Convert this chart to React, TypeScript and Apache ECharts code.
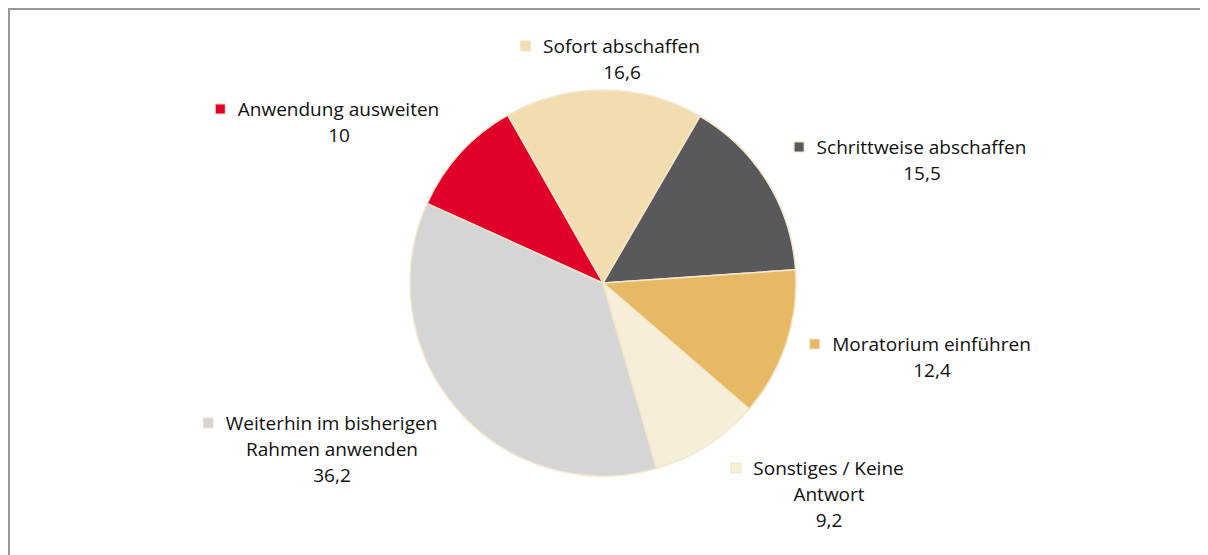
import React, { useEffect, useRef } from "react";
import * as echarts from "echarts";

// ---- data ----
const categories = [
  "Sofort abschaffen",
  "Schrittweise abschaffen",
  "Moratorium einführen",
  "Sonstiges / Keine Antwort",
  "Weiterhin im bisherigen Rahmen anwenden",
  "Anwendung ausweiten",
];
const labelLines = [
  ["Sofort abschaffen"],
  ["Schrittweise abschaffen"],
  ["Moratorium einführen"],
  ["Sonstiges / Keine", "Antwort"],
  ["Weiterhin im bisherigen", "Rahmen anwenden"],
  ["Anwendung ausweiten"],
];
const values = [16.6, 15.5, 12.4, 9.2, 36.2, 10];

// ---- styles ----
const colors = ["#f2ddb0", "#59595b", "#e8b965", "#f6eed8", "#d5d5d5", "#e1002a"];
// label anchor (center x, top y) in chart pixels
const labelPos: [number, number][] = [
  [612, 23],
  [912, 124],
  [922, 321],
  [819, 445],
  [322, 400],
  [329, 86],
];
const FONT = "Open Sans";
const FS = 19;
const LH = 26;

function fmt(v: number) {
  return String(v).replace(".", ",");
}

export default function App() {
  const ref = useRef<HTMLDivElement>(null);
  useEffect(() => {
    if (!ref.current) return;
    const chart = echarts.init(ref.current, undefined, { renderer: "svg" });
    const rich: any = {
      g: { width: 13, height: LH, align: "center" },
      pad: { width: 23, height: LH, align: "center" },
      t: { fontFamily: FONT, fontSize: FS, color: "#111", lineHeight: LH, align: "center" },
    };
    colors.forEach((c, i) => {
      rich["sq" + i] = {
        width: 9,
        height: 9,
        backgroundColor: c,
        borderColor: "#f3e4c2",
        borderWidth: 1,
        align: "center",
      };
    });
    chart.setOption({
      animation: false,
      series: [
        {
          type: "pie",
          center: [593, 273],
          radius: 193,
          startAngle: 119.6,
          clockwise: true,
          avoidLabelOverlap: false,
          itemStyle: { borderColor: "#f4e8cc", borderWidth: 1.5 },
          labelLine: { show: false },
          label: {
            show: true,
            position: "outside",
            align: "center",
            formatter: (p: any) => {
              const lines = labelLines[p.dataIndex];
              const first = `{sq${p.dataIndex}|}{g|}{t|${lines[0]}}{pad|}`;
              const rest = lines.slice(1).map((l) => `{t|${l}}`);
              return [first, ...rest, `{t|${fmt(p.value)}}`].join("\n");
            },
            rich,
          },
          labelLayout: (p: any) => ({
            x: labelPos[p.dataIndex][0],
            y: labelPos[p.dataIndex][1],
            align: "center",
            verticalAlign: "top",
          }),
          data: categories.map((name, i) => ({
            name,
            value: values[i],
            itemStyle: { color: colors[i] },
          })),
        },
      ],
    });
    return () => chart.dispose();
  }, []);
  return (
    <div
      style={{
        width: 1200,
        height: 600,
        boxSizing: "border-box",
        border: "2px solid #999",
        background: "#fff",
      }}
    >
      <div ref={ref} style={{ width: 1196, height: 560 }} />
    </div>
  );
}
